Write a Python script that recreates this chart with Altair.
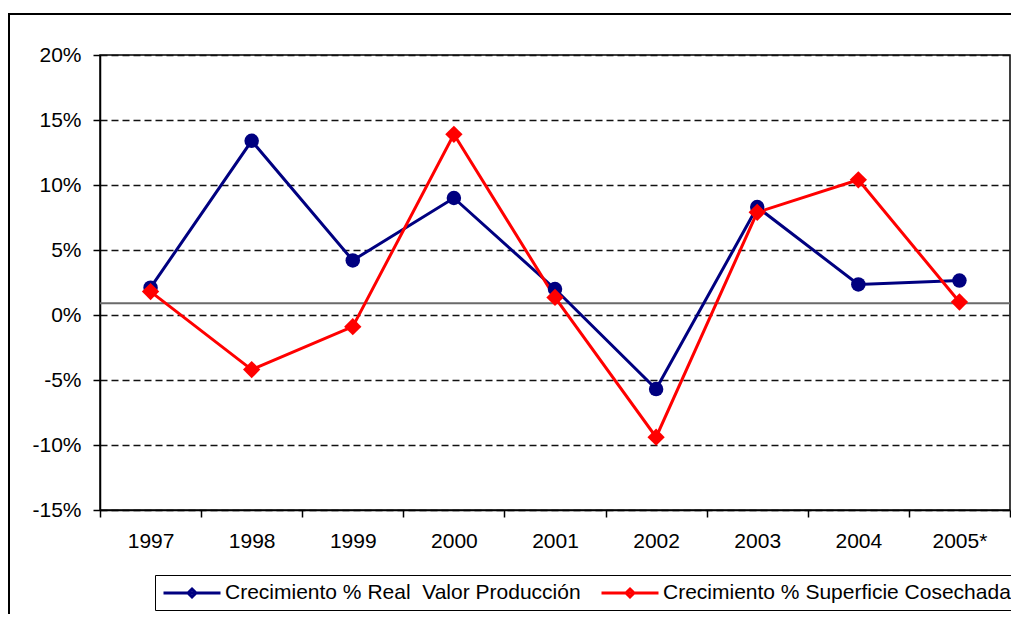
import altair as alt
import pandas as pd

years = ["1997", "1998", "1999", "2000", "2001", "2002", "2003", "2004", "2005*"]
valor_produccion = [2.1, 13.4, 4.2, 9.0, 2.0, -5.7, 8.3, 2.35, 2.65]
superficie_cosechada = [1.8, -4.2, -0.9, 13.9, 1.35, -9.4, 7.9, 10.4, 1.0]
series_names = ["Crecimiento % Real\u00a0 Valor Producción", "Crecimiento % Superficie Cosechada"]
series_colors = ["#000080", "#FF0000"]
series_shapes = ["circle", "diamond"]
series_sizes = [210, 300]
y_ticks = [-0.15, -0.10, -0.05, 0.0, 0.05, 0.10, 0.15, 0.20]
ref_line = [0.009]

rows = []
for name, vals in zip(series_names, [valor_produccion, superficie_cosechada]):
    for yr, v in zip(years, vals):
        rows.append({"year": yr, "value": v / 100.0, "serie": name})
df = pd.DataFrame(rows)

FONT = "Liberation Sans"
# legend symbol: a line with a small diamond in its middle (unit = sqrt(size)/2 px)
LEG_PATH = "M-1,0L5,0M2,-0.42L2.42,0L2,0.42L1.58,0Z"

x_enc = alt.X(
    "year:N",
    sort=years,
    scale=alt.Scale(type="band", domain=years, paddingInner=0, paddingOuter=0),
    axis=alt.Axis(
        title=None, labelAngle=0, tickBand="extent", grid=False,
        tickSize=7, tickColor="black", domainColor="black", domainWidth=1.5,
        tickWidth=1.5, labelPadding=13, labelFont=FONT, labelFontSize=21,
        labelColor="black",
    ),
)
y_enc = alt.Y(
    "value:Q",
    scale=alt.Scale(domain=[-0.15, 0.20], nice=False, zero=False),
    axis=alt.Axis(
        title=None, values=y_ticks, format=".0%",
        labelExpr="replace(datum.label, '\u2212', '-')",
        grid=True, gridDash=[7, 4],
        gridColor="#111111", gridWidth=1.4, tickSize=7, tickColor="black",
        tickWidth=1.5, domainColor="black", domainWidth=1.5, labelPadding=12,
        labelFont=FONT, labelFontSize=21, labelColor="black",
    ),
)
color_enc = alt.Color(
    "serie:N",
    sort=series_names,
    scale=alt.Scale(domain=series_names, range=series_colors),
    legend=alt.Legend(
        title=None, orient="none", legendX=55, legendY=520, direction="horizontal",
        symbolType=LEG_PATH, symbolSize=361, symbolStrokeWidth=3,
        labelFont=FONT, labelFontSize=21, labelColor="black", labelLimit=0,
        labelOffset=41, columnPadding=14, padding=7, strokeColor="black",
        fillColor="white",
    ),
)

frame = alt.Chart(pd.DataFrame({"a": [0]})).mark_rect(
    filled=False, stroke="black", strokeWidth=2
).encode(
    x=alt.value(-91), x2=alt.value(1040), y=alt.value(-41), y2=alt.value(620)
)

rule = alt.Chart(pd.DataFrame({"v": ref_line})).mark_rule(
    color="#6a6a6a", strokeWidth=2
).encode(y=alt.Y("v:Q"))

lines = alt.Chart(df).mark_line(strokeWidth=3).encode(
    x=x_enc, y=y_enc, color=color_enc, order=alt.Order("year:N")
)

point_layers = []
for name, col, shp, sz in zip(series_names, series_colors, series_shapes, series_sizes):
    point_layers.append(
        alt.Chart(df).transform_filter(alt.datum.serie == name)
        .mark_point(filled=True, opacity=1, shape=shp, size=sz, color=col)
        .encode(x=alt.X("year:N", sort=years), y="value:Q")
    )

chart = alt.layer(frame, rule, lines, *point_layers).properties(
    width=910, height=455,
    background="white",
    autosize=alt.AutoSizeParams(type="none"),
    padding={"left": 92, "top": 47, "right": 1, "bottom": 104},
).configure_view(stroke="black", strokeWidth=1.5)

chart.save("out.html", embed_options={"renderer": "svg", "actions": False})
